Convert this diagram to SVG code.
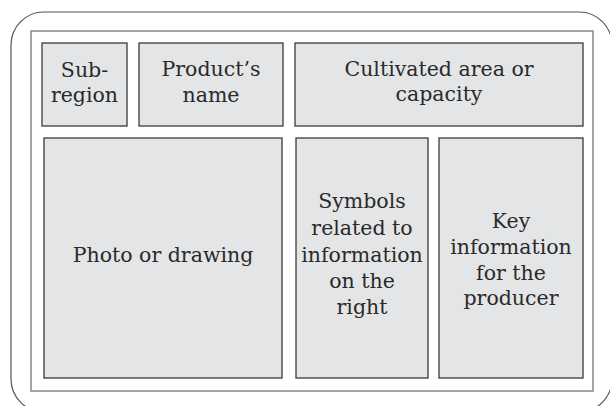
<svg xmlns="http://www.w3.org/2000/svg" width="610" height="406" viewBox="0 0 610 406">
<style>
.box{fill:#e4e5e7;stroke:#3a3a3a;stroke-width:1.3}
text{font-family:"DejaVu Serif","Liberation Serif",serif;font-size:20.5px;fill:#2a2a2a;text-anchor:middle}
</style>
<rect x="0" y="0" width="610" height="406" fill="#ffffff"/>
<rect id="outer" x="11" y="12" width="601" height="400" rx="33" ry="33" fill="none" stroke="#555" stroke-width="1.2"/>
<rect id="frame" x="31" y="31" width="562" height="360" fill="none" stroke="#888" stroke-width="1.5"/>
<g id="subregion"><rect class="box" x="42" y="43" width="85" height="83"/><text x="84.5" y="77">Sub-</text><text x="84.5" y="102">region</text></g>
<g id="productname"><rect class="box" x="139" y="43" width="144" height="83"/><text x="211" y="76">Product’s</text><text x="211" y="102">name</text></g>
<g id="cultivated"><rect class="box" x="295" y="43" width="288" height="83"/><text x="439" y="76">Cultivated area or</text><text x="439" y="101">capacity</text></g>
<g id="photo"><rect class="box" x="44" y="138" width="238" height="240"/><text x="163" y="262">Photo or drawing</text></g>
<g id="symbols"><rect class="box" x="296" y="138" width="132" height="240"/><text x="362" y="208">Symbols</text><text x="362" y="235">related to</text><text x="362" y="261.5">information</text><text x="362" y="288">on the</text><text x="362" y="314">right</text></g>
<g id="key"><rect class="box" x="439" y="138" width="144" height="240"/><text x="511" y="228">Key</text><text x="511" y="254">information</text><text x="511" y="280">for the</text><text x="511" y="305">producer</text></g>
<g id="connectors"></g>
</svg>
